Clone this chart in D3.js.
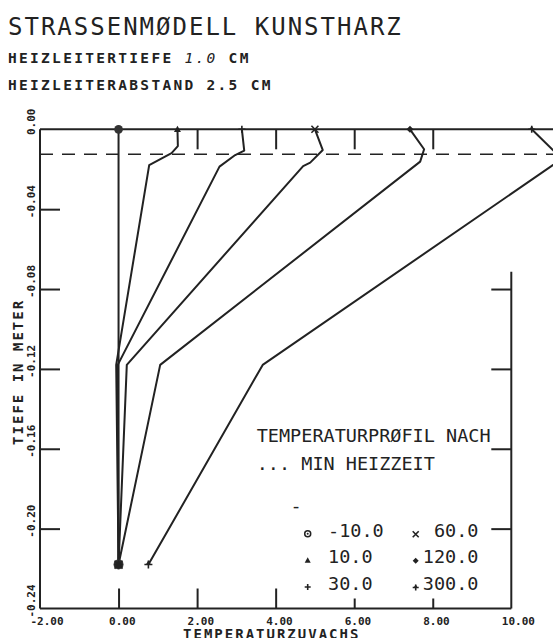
<!DOCTYPE html>
<html>
<head>
<meta charset="utf-8">
<script src="https://cdn.jsdelivr.net/npm/d3@7"></script>
<style>
  html, body { margin: 0; padding: 0; background: #fff; }
  svg { display: block; }
  text { font-family: "DejaVu Sans Mono", "Liberation Mono", monospace; fill: #222; }
</style>
</head>
<body>
<svg id="chart" width="553" height="638"></svg>
<script>
// ---------------- DATA ----------------
const titleLine = "STRASSENMØDELL KUNSTHARZ";
const subtitle1a = "HEIZLEITERTIEFE ";
const subtitle1b = "1.0";
const subtitle1c = " CM";
const subtitle2 = "HEIZLEITERABSTAND 2.5 CM";
const xAxisTitle = "TEMPERATURZUVACHS";
const yAxisTitle = "TIEFE IN METER";
const legendTitle1 = "TEMPERATURPRØFIL NACH";
const legendTitle2 = "... MIN HEIZZEIT";

const xTicks = [-2, 0, 2, 4, 6, 8, 10];
const yTicks = [0, -0.04, -0.08, -0.12, -0.16, -0.20, -0.24];
const heaterDepth = -0.0125;      // dashed line (Heizleitertiefe)
const rightAxisTop = -0.0713;     // right frame line starts here

const seriesNames = ["-10.0", "10.0", "30.0", "60.0", "120.0", "300.0"];
const seriesSymbols = ["circle", "triangle", "plus", "cross", "diamond", "plusdot"];

const tempM10  = [0.00, 0.00];
const depthM10 = [0, -0.218];

const temp10  = [1.50, 1.51, 1.35, 0.78, -0.06, 0.00];
const depth10 = [0, -0.0084, -0.0119, -0.0179, -0.118, -0.218];

const temp30  = [3.14, 3.20, 2.97, 2.57, -0.02, 0.00];
const depth30 = [0, -0.0107, -0.0129, -0.0187, -0.118, -0.218];

const temp60  = [5.00, 5.20, 4.88, 4.70, 0.21, 0.00];
const depth60 = [0, -0.0104, -0.0167, -0.0184, -0.118, -0.218];

const temp120  = [7.42, 7.78, 7.68, 1.06, 0.00];
const depth120 = [0, -0.0100, -0.0162, -0.118, -0.218];

const temp300  = [10.52, 11.29, 3.67, 0.76];
const depth300 = [0, -0.0148, -0.118, -0.218];

// ---------------- BUILD ----------------
const seriesTemps = [tempM10, temp10, temp30, temp60, temp120, temp300];
const seriesDepths = [depthM10, depth10, depth30, depth60, depth120, depth300];
const series = seriesNames.map((name, i) => ({
  name, symbol: seriesSymbols[i],
  points: seriesTemps[i].map((t, j) => ({ t, d: seriesDepths[i][j] }))
}));

const ink = "#222";
const svg = d3.select("#chart");
const W = 553;

const x = d3.scaleLinear().domain([-2, 10]).range([40, 511.3]);
const y = d3.scaleLinear().domain([0, -0.24]).range([129.3, 608.5]);

// ---- Titles ----
svg.append("text").attr("x", 8).attr("y", 35)
  .attr("font-size", 24).attr("letter-spacing", 2).text(titleLine);

const st1 = svg.append("text").attr("x", 8).attr("y", 63)
  .attr("font-size", 14.5).attr("font-weight", "bold").attr("letter-spacing", 2.3);
st1.append("tspan").text(subtitle1a);
st1.append("tspan").attr("font-style", "italic").attr("font-weight", "normal").text(subtitle1b);
st1.append("tspan").text(subtitle1c);

svg.append("text").attr("x", 8).attr("y", 90)
  .attr("font-size", 14.5).attr("font-weight", "bold").attr("letter-spacing", 2.3).text(subtitle2);

// ---- Axes ----
const fmt = d => d.toFixed(2);

// bottom axis
const gBottom = svg.append("g").attr("transform", `translate(0,${y(-0.24)})`)
  .call(d3.axisBottom(x).tickValues(xTicks).tickSizeInner(-20).tickSizeOuter(0).tickFormat(fmt));
gBottom.select(".domain").remove();
gBottom.selectAll(".tick line")
  .attr("stroke", ink).attr("stroke-width", 2)
  .attr("y2", d => (d === -2 || d === 10) ? 0 : (d >= 6 ? -10 : -20));
gBottom.selectAll(".tick text")
  .attr("y", 16).attr("dy", 0).attr("x", -10)
  .attr("text-anchor", "start")
  .attr("font-family", "DejaVu Sans Mono").attr("font-weight", "bold")
  .attr("font-size", 11).attr("fill", ink);

// left axis
const gLeft = svg.append("g").attr("transform", `translate(${x(-2)},0)`)
  .call(d3.axisLeft(y).tickValues(yTicks).tickSizeInner(-20).tickSizeOuter(0).tickFormat(fmt));
gLeft.select(".domain").remove();
gLeft.selectAll(".tick line")
  .attr("stroke", ink).attr("stroke-width", 2)
  .attr("x2", d => (d === 0 || d === -0.24) ? 0 : 20);
gLeft.selectAll(".tick text")
  .attr("x", 0).attr("y", 0).attr("dy", 0)
  .attr("text-anchor", "middle")
  .attr("transform", "translate(-5,-8) rotate(-90)")
  .attr("font-family", "DejaVu Sans Mono").attr("font-weight", "bold")
  .attr("font-size", 11).attr("fill", ink);

// right axis (partial frame)
const gRight = svg.append("g").attr("transform", `translate(${x(10)},0)`)
  .call(d3.axisRight(y).tickValues(yTicks.filter(v => v <= -0.08 && v > -0.24))
    .tickSizeInner(-20).tickSizeOuter(0).tickFormat(""));
gRight.select(".domain").remove();
gRight.selectAll(".tick line").attr("stroke", ink).attr("stroke-width", 2);

// top axis
const gTop = svg.append("g").attr("transform", `translate(0,${y(0)})`)
  .call(d3.axisTop(x).tickValues(xTicks.filter(v => v > 0 && v < 10))
    .tickSizeInner(-20).tickSizeOuter(0).tickFormat(""));
gTop.select(".domain").remove();
gTop.selectAll(".tick line").attr("stroke", ink).attr("stroke-width", 2);

// frame lines
const frame = svg.append("g").attr("stroke", ink).attr("stroke-width", 2).attr("fill", "none");
frame.append("line").attr("x1", x(-2)).attr("x2", W).attr("y1", y(0)).attr("y2", y(0));
frame.append("line").attr("x1", x(-2)).attr("x2", x(10)).attr("y1", y(-0.24)).attr("y2", y(-0.24));
frame.append("line").attr("x1", x(-2)).attr("x2", x(-2)).attr("y1", y(0)).attr("y2", y(-0.24));
frame.append("line").attr("x1", x(10)).attr("x2", x(10)).attr("y1", y(rightAxisTop)).attr("y2", y(-0.24));

// dashed heater line
svg.append("line")
  .attr("x1", x(-2)).attr("x2", W).attr("y1", y(heaterDepth)).attr("y2", y(heaterDepth))
  .attr("stroke", ink).attr("stroke-width", 1.5).attr("stroke-dasharray", "13,9");

// axis titles
svg.append("text")
  .attr("transform", `translate(23,${y(-0.1215)}) rotate(-90)`)
  .attr("text-anchor", "middle").attr("font-size", 14).attr("font-weight", "bold")
  .attr("letter-spacing", 2).text(yAxisTitle);

svg.append("text")
  .attr("x", x(3.9)).attr("y", 639)
  .attr("text-anchor", "middle").attr("font-size", 14).attr("font-weight", "bold")
  .attr("letter-spacing", 2).text(xAxisTitle);

// ---- Lines ----
const line = d3.line().x(p => x(p.t)).y(p => y(p.d));
svg.append("g").selectAll("path").data(series).join("path")
  .attr("d", s => line(s.points))
  .attr("fill", "none").attr("stroke", ink).attr("stroke-width", 2)
  .attr("stroke-linejoin", "round");

// ---- Markers ----
function drawSymbol(g, type, cx, cy, s, legend) {
  const h = s / 2;
  if (type === "circle") {
    if (legend) {
      g.append("circle").attr("cx", cx).attr("cy", cy).attr("r", h)
        .attr("fill", "#fff").attr("stroke", ink).attr("stroke-width", 1.5);
      g.append("circle").attr("cx", cx).attr("cy", cy).attr("r", 1).attr("fill", ink);
    } else {
      g.append("circle").attr("cx", cx).attr("cy", cy).attr("r", h * 1.25).attr("fill", "#333");
    }
  } else if (type === "triangle") {
    g.append("path").attr("d", `M${cx},${cy - h} L${cx + h},${cy + h * 0.8} L${cx - h},${cy + h * 0.8}Z`)
      .attr("fill", ink);
  } else if (type === "plus") {
    g.append("path").attr("d", `M${cx - h},${cy} H${cx + h} M${cx},${cy - h} V${cy + h}`)
      .attr("stroke", ink).attr("stroke-width", 1.6);
  } else if (type === "cross") {
    g.append("path").attr("d", `M${cx - h},${cy - h} L${cx + h},${cy + h} M${cx - h},${cy + h} L${cx + h},${cy - h}`)
      .attr("stroke", ink).attr("stroke-width", 1.6);
  } else if (type === "diamond") {
    g.append("path").attr("d", `M${cx},${cy - h} L${cx + h},${cy} L${cx},${cy + h} L${cx - h},${cy}Z`)
      .attr("fill", ink);
  } else if (type === "plusdot") {
    g.append("path").attr("d", `M${cx - h},${cy} H${cx + h} M${cx},${cy - h} V${cy + h}`)
      .attr("stroke", ink).attr("stroke-width", 1.6);
    g.append("path").attr("d", `M${cx},${cy - h} L${cx + h * 0.6},${cy - h * 0.1} L${cx - h * 0.6},${cy - h * 0.1}Z`)
      .attr("fill", ink);
  }
}

const gm = svg.append("g");
series.forEach(s => {
  const first = s.points[0], last = s.points[s.points.length - 1];
  drawSymbol(gm, s.symbol, x(first.t), y(first.d), 7, false);
  drawSymbol(gm, s.symbol, x(last.t), y(last.d), 8, false);
});

// ---- Legend ----
const lg = svg.append("g");
lg.append("text").attr("x", 256.7).attr("y", 441.5).attr("font-size", 18.5).text(legendTitle1);
lg.append("text").attr("x", 256.7).attr("y", 470).attr("font-size", 18.5).text(legendTitle2);
lg.append("text").attr("x", 290.5).attr("y", 512).attr("font-size", 18.5).text("-");

const rowY = [536.7, 563.3, 590];
series.forEach((s, i) => {
  const col = Math.floor(i / 3), row = i % 3;
  const by = rowY[row];
  if (col === 0) {
    drawSymbol(lg, s.symbol, 307.7, by - 3, 6, true);
    lg.append("text").attr("x", 328).attr("y", by).attr("font-size", 18.5).text(s.name);
  } else {
    drawSymbol(lg, s.symbol, 415.7, by - 2.5, 6, true);
    lg.append("text").attr("x", 478.5).attr("y", by).attr("text-anchor", "end")
      .attr("font-size", 18.5).text(s.name);
  }
});
</script>
</body>
</html>
